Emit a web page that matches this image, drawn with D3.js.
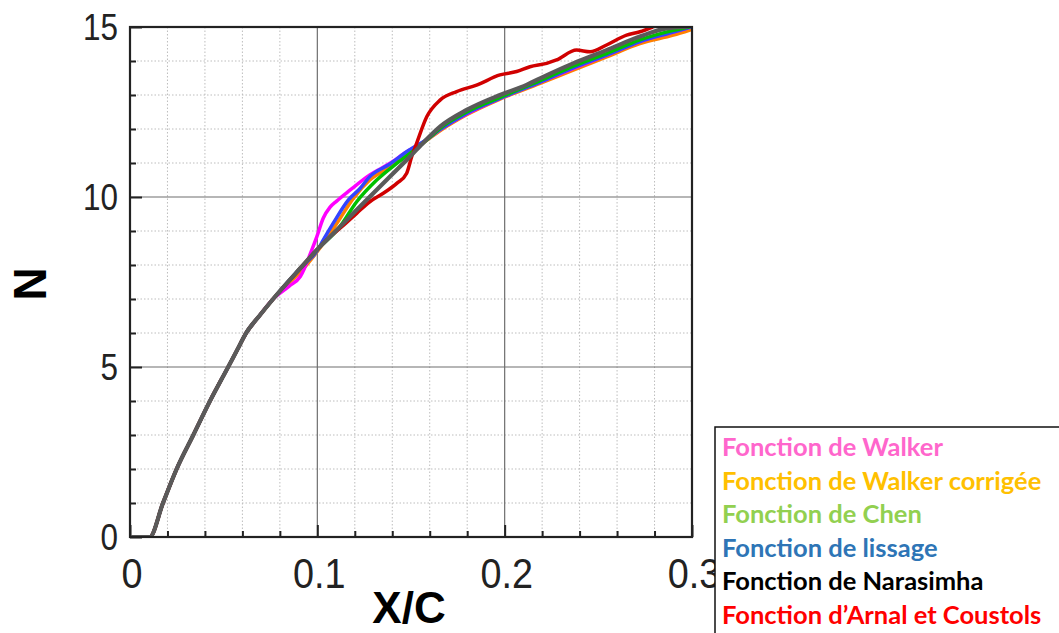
<!DOCTYPE html>
<html>
<head>
<meta charset="utf-8">
<script src="https://cdn.jsdelivr.net/npm/d3@7"></script>
<style>
  html, body { margin: 0; padding: 0; background: #fff; }
  svg { display: block; }
</style>
</head>
<body>
<svg id="chart" width="1059" height="633"></svg>
<script>
// ---------- DATA ----------
const xTicks = [0, 0.1, 0.2, 0.3];
const xTickLabels = ["0", "0.1", "0.2", "0.3"];
const yTicks = [0, 5, 10, 15];
const yTickLabels = ["0", "5", "10", "15"];
const xMinor = [0.02, 0.04, 0.06, 0.08, 0.12, 0.14, 0.16, 0.18, 0.22, 0.24, 0.26, 0.28];
const yMinor = [1, 2, 3, 4, 6, 7, 8, 9, 11, 12, 13, 14];

const legendLabels = [
  "Fonction de Walker",
  "Fonction de Walker corrigée",
  "Fonction de Chen",
  "Fonction de lissage",
  "Fonction de Narasimha",
  "Fonction d\u2019Arnal et Coustols"
];

// [x/c, N]
const walker = [
  [0,0],[0.0105,0],[0.0176,1],[0.0249,2],[0.0338,3],[0.0427,4],[0.0524,5],[0.0572,5.5],[0.062,6],[0.069,6.5],[0.0764,7],
  [0.085,7.38],[0.0909,7.66],[0.097,8.44],[0.0997,8.83],[0.1032,9.38],[0.1068,9.7],[0.1103,9.88],
  [0.1174,10.2],[0.128,10.65],[0.1388,10.99],[0.1477,11.33],[0.1584,11.68],[0.1655,11.98],
  [0.1797,12.44],[0.1975,12.9],[0.2189,13.38],[0.2366,13.78],[0.2544,14.17],[0.2722,14.57],
  [0.29,14.85],[0.2995,15]
];
const walkerCorr = [
  [0,0],[0.0105,0],[0.0176,1],[0.0249,2],[0.0338,3],[0.0427,4],[0.0524,5],[0.0572,5.5],[0.062,6],[0.069,6.5],[0.0764,7],
  [0.0943,8.0],[0.105,8.78],[0.1121,9.37],[0.1192,9.96],[0.128,10.5],[0.1388,10.88],[0.1495,11.33],
  [0.158,11.65],[0.1655,11.95],[0.1797,12.42],[0.1975,12.88],[0.2189,13.34],[0.2366,13.73],
  [0.2544,14.12],[0.2722,14.51],[0.29,14.76],[0.2989,14.91]
];
const chen = [
  [0,0],[0.0105,0],[0.0176,1],[0.0249,2],[0.0338,3],[0.0427,4],[0.0524,5],[0.0572,5.5],[0.062,6],[0.069,6.5],[0.0764,7],
  [0.0925,8.0],[0.0997,8.44],[0.1121,9.13],[0.121,9.86],[0.1317,10.5],[0.1424,10.99],[0.153,11.43],
  [0.16,11.75],[0.1655,12.02],[0.1797,12.5],[0.1975,12.93],[0.2189,13.42],[0.2366,13.85],
  [0.2544,14.22],[0.2722,14.62],[0.29,14.9],[0.2985,15]
];
const lissage = [
  [0,0],[0.0105,0],[0.0176,1],[0.0249,2],[0.0338,3],[0.0427,4],[0.0524,5],[0.0572,5.5],[0.062,6],[0.069,6.5],[0.0764,7],
  [0.0925,8.0],[0.0997,8.4],[0.1032,8.74],[0.1085,9.23],[0.1165,9.91],[0.1228,10.25],[0.128,10.6],
  [0.1388,10.97],[0.1477,11.33],[0.158,11.68],[0.1655,11.98],[0.1797,12.46],[0.1975,12.9],
  [0.2189,13.38],[0.2366,13.8],[0.2544,14.17],[0.2722,14.57],[0.29,14.85],[0.2995,15]
];
const narasimha = [
  [0,0],[0.0105,0],[0.0176,1],[0.0249,2],[0.0338,3],[0.0427,4],[0.0524,5],[0.0572,5.5],[0.062,6],[0.069,6.5],[0.0764,7],
  [0.0925,8.0],[0.0997,8.44],[0.1068,8.83],[0.1174,9.42],[0.128,10.01],[0.1388,10.6],[0.1495,11.19],
  [0.157,11.62],[0.1655,12.07],[0.1797,12.56],[0.1975,13.0],[0.2117,13.3],[0.2189,13.49],
  [0.2366,13.93],[0.2544,14.32],[0.2722,14.72],[0.2866,14.96],[0.297,15.0]
];
const arnal = [
  [0,0],[0.0105,0],[0.0176,1],[0.0249,2],[0.0338,3],[0.0427,4],[0.0524,5],[0.0572,5.5],[0.062,6],[0.069,6.5],[0.0764,7],
  [0.0925,8.0],[0.0997,8.44],[0.1068,8.83],[0.1121,9.08],[0.121,9.52],[0.128,9.86],[0.1352,10.11],
  [0.1424,10.4],[0.1477,10.7],[0.1504,11.19],[0.153,11.58],[0.1584,12.36],[0.1655,12.85],
  [0.1744,13.1],[0.185,13.29],[0.1975,13.59],[0.2064,13.69],[0.2135,13.83],[0.2224,13.93],
  [0.2277,14.03],[0.2384,14.32],[0.2456,14.27],[0.2544,14.47],[0.2651,14.76],[0.2722,14.86],
  [0.279,15.0]
];

const lineColors = ["#ff00ff", "#ff8000", "#00c000", "#3344ff", "#5a5a5a", "#d00000"];
const legendColors = ["#ff66cc", "#ffc000", "#92d050", "#2e75b6", "#000000", "#ff0000"];

// ---------- CHART ----------
const svg = d3.select("#chart");
const L = 130, R = 692, T = 27, B = 537;
const x = d3.scaleLinear().domain([0, 0.3]).range([L, R]);
const y = d3.scaleLinear().domain([0, 15]).range([B, T]);

svg.append("defs").append("clipPath").attr("id", "clip")
  .append("rect").attr("x", L).attr("y", T - 1).attr("width", R - L + 1).attr("height", B - T + 1);

// minor grid (dotted)
const grid = svg.append("g");
grid.selectAll(".gxm").data(xMinor).join("line")
  .attr("x1", d => x(d)).attr("x2", d => x(d)).attr("y1", T).attr("y2", B)
  .attr("stroke", "#bdbdbd").attr("stroke-width", 1).attr("stroke-dasharray", "1.5,2");
grid.selectAll(".gym").data(yMinor).join("line")
  .attr("y1", d => y(d)).attr("y2", d => y(d)).attr("x1", L).attr("x2", R)
  .attr("stroke", "#bdbdbd").attr("stroke-width", 1).attr("stroke-dasharray", "1.5,2");
// major grid (solid)
grid.selectAll(".gxM").data([0.1, 0.2]).join("line")
  .attr("x1", d => x(d)).attr("x2", d => x(d)).attr("y1", T).attr("y2", B)
  .attr("stroke", "#6e6e6e").attr("stroke-width", 1.2);
grid.selectAll(".gyM").data([5, 10]).join("line")
  .attr("y1", d => y(d)).attr("y2", d => y(d)).attr("x1", L).attr("x2", R)
  .attr("stroke", "#6e6e6e").attr("stroke-width", 1.2);

// axes ticks (inward)
const axB = svg.append("g").attr("transform", `translate(0,${B})`)
  .call(d3.axisBottom(x).tickValues(xTicks).tickSize(-12).tickFormat(""));
const axBm = svg.append("g").attr("transform", `translate(0,${B})`)
  .call(d3.axisBottom(x).tickValues(xMinor).tickSize(-6).tickFormat(""));
const axL = svg.append("g").attr("transform", `translate(${L},0)`)
  .call(d3.axisLeft(y).tickValues(yTicks).tickSize(-12).tickFormat(""));
const axLm = svg.append("g").attr("transform", `translate(${L},0)`)
  .call(d3.axisLeft(y).tickValues(yMinor).tickSize(-6).tickFormat(""));
[axB, axBm, axL, axLm].forEach(a => {
  a.select(".domain").remove();
  a.selectAll(".tick line").attr("stroke", "#222").attr("stroke-width", 2);
});

// series
const line = d3.line().x(d => x(d[0])).y(d => y(d[1])).curve(d3.curveMonotoneX);
const series = [walkerCorr, walker, lissage, chen, arnal, narasimha];
const seriesColor = [lineColors[1], lineColors[0], lineColors[3], lineColors[2], lineColors[5], lineColors[4]];
const seriesWidth = [3.5, 3.5, 3.5, 3.5, 3.5, 4.2];
const lines = svg.append("g").attr("clip-path", "url(#clip)");
lines.selectAll("path").data(series).join("path")
  .attr("d", d => line(d))
  .attr("fill", "none")
  .attr("stroke", (d, i) => seriesColor[i])
  .attr("stroke-width", (d, i) => seriesWidth[i])
  .attr("stroke-linejoin", "round")
  .attr("stroke-linecap", "round");

// frame
svg.append("rect").attr("x", L).attr("y", T).attr("width", R - L).attr("height", B - T)
  .attr("fill", "none").attr("stroke", "#222").attr("stroke-width", 2.2);

// tick labels
const lblFont = "'Liberation Sans', Arial, sans-serif";
svg.append("g").selectAll("text").data(yTicks).join("text")
  .attr("transform", d => `translate(118,${y(d) + 13}) scale(0.85,1)`)
  .attr("text-anchor", "end")
  .attr("font-family", lblFont).attr("font-size", 37).attr("fill", "#222")
  .text((d, i) => yTickLabels[i]);
svg.append("g").selectAll("text").data(xTicks).join("text")
  .attr("transform", d => `translate(${x(d) + 2},${B + 51}) scale(0.9,1)`)
  .attr("text-anchor", "middle")
  .attr("font-family", lblFont).attr("font-size", 42).attr("fill", "#222")
  .text((d, i) => xTickLabels[i]);

// axis titles
svg.append("text")
  .attr("x", x(0.15) - 2).attr("y", 623)
  .attr("text-anchor", "middle")
  .attr("font-family", "'Liberation Sans', Arial, sans-serif").attr("font-weight", "bold")
  .attr("font-size", 44).attr("fill", "#000")
  .text("X/C");
svg.append("text")
  .attr("transform", "translate(46,284) rotate(-90)")
  .attr("text-anchor", "middle")
  .attr("font-family", "'Liberation Sans', Arial, sans-serif").attr("font-weight", "bold")
  .attr("font-size", 46).attr("fill", "#000")
  .text("N");

// legend box
const lg = svg.append("g");
lg.append("rect").attr("x", 715).attr("y", 427).attr("width", 360).attr("height", 220)
  .attr("fill", "#fff").attr("stroke", "#111").attr("stroke-width", 1.5);
const rowY = d3.scaleLinear().domain([0, 5]).range([456, 624]);
lg.selectAll("text").data(legendLabels).join("text")
  .attr("x", 722).attr("y", (d, i) => rowY(i))
  .attr("font-family", "Lato, 'Open Sans', sans-serif").attr("font-weight", "bold")
  .attr("font-size", 25.5)
  .attr("fill", (d, i) => legendColors[i])
  .text(d => d);
</script>
</body>
</html>
